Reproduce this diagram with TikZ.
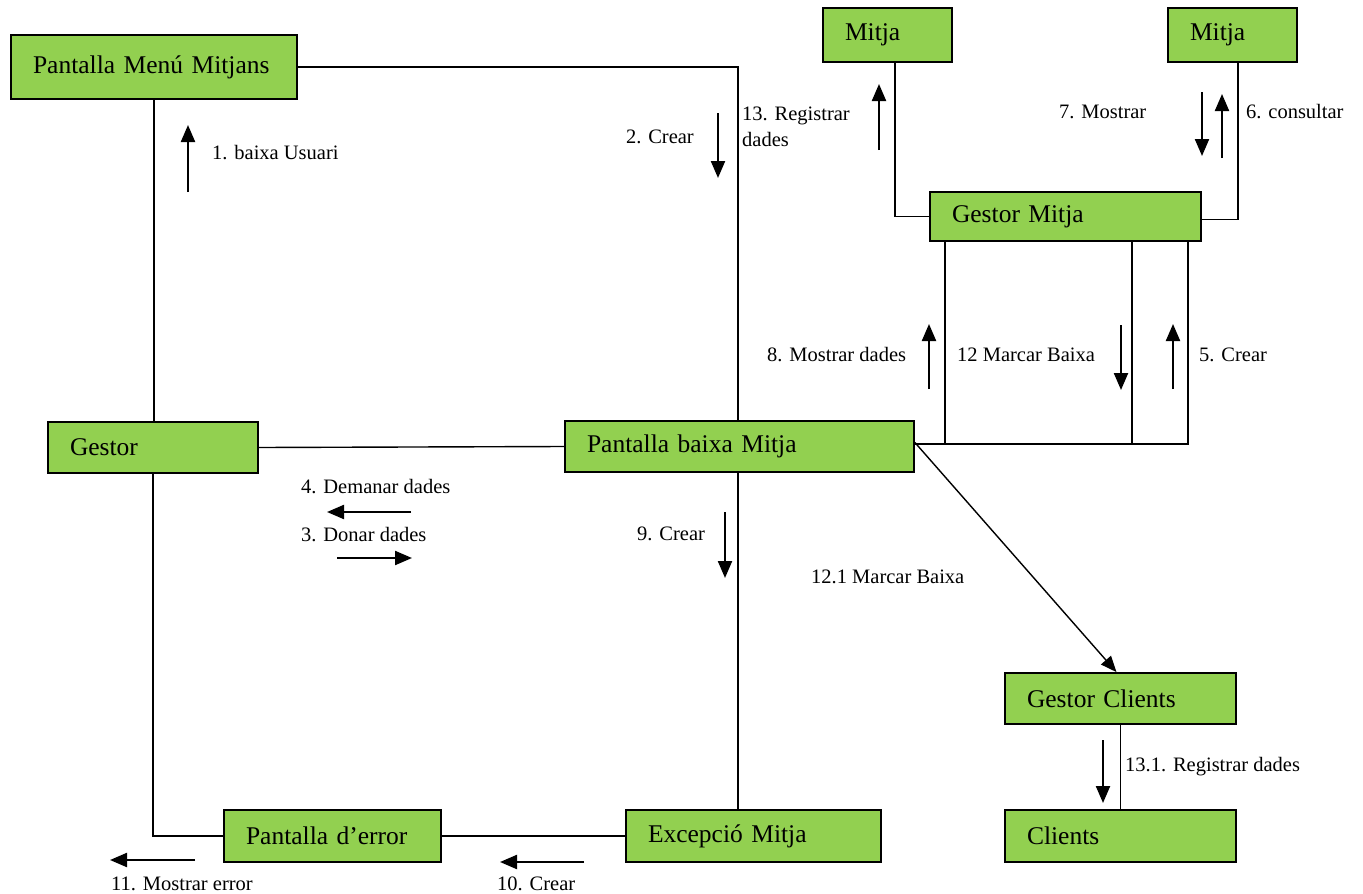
\documentclass[tikz,border=0pt]{standalone}
\usepackage{fontspec}
\setmainfont{Liberation Serif}
\usetikzlibrary{arrows.meta, positioning}
\definecolor{groenn}{HTML}{92D050}

\begin{document}
\begin{tikzpicture}[
    x=1pt, y=-1pt,
    punkt/.style = {rectangle, draw, fill=groenn, line width=1.8pt,
                    inner xsep=22pt, inner ysep=0pt, align=left,
                    font=\fontsize{25.5}{29}\selectfont},
    linje/.style = {black, line width=1.4pt},
    pil/.style = {black, line width=2.2pt, -{Triangle[length=17pt, width=14pt]}},
    etikett/.style = {anchor=west, inner sep=0pt, font=\fontsize{20.5}{26}\selectfont}
    ]
  \useasboundingbox (0,0) rectangle (1363,894);

  \node[punkt, text width=242pt, minimum height=64pt] (menu) at (154,67) {Pantalla Menú Mitjans} ;
  \node[punkt, text width=85pt, minimum height=54pt] (mitja1) at (887.5,35) {Mitja} ;
  \node[punkt, text width=85pt, minimum height=54pt] (mitja2) at (1232.5,35) {Mitja} ;
  \node[punkt, text width=227pt, minimum height=49pt] (gmitja) at (1065.5,216.5) {Gestor Mitja} ;
  \node[punkt, text width=166pt, minimum height=51pt] (gestor) at (153,447.5) {Gestor} ;
  \node[punkt, text width=305pt, minimum height=51pt] (pbaixa) at (739.5,446.5) {Pantalla baixa Mitja} ;
  \node[punkt, text width=187pt, minimum height=51pt] (gclients) at (1120.5,698.5) {Gestor Clients} ;
  \node[punkt, text width=187pt, minimum height=52pt] (clients) at (1120.5,836) {Clients} ;
  \node[punkt, text width=173pt, minimum height=52pt] (perror) at (332.5,836) {Pantalla d’error} ;
  \node[punkt, text width=211pt, minimum height=52pt] (excepcio) at (753.5,836) {Excepció Mitja} ;

  % connexions
  \draw[linje] (menu.east) -| ([xshift=-1.5pt]pbaixa.north) ;
  \draw[linje] (menu.south) -- (menu.south |- gestor.north) ;
  \draw[linje] (gestor.east) -- (pbaixa.west) ;
  \draw[linje] (gestor.south) |- (perror.west) ;
  \draw[linje] (perror.east) -- (excepcio.west) ;
  \draw[linje] ([xshift=-1.5pt]pbaixa.south) -- ([xshift=-1.5pt]pbaixa.south |- excepcio.north) ;
  \draw[linje] ([xshift=7.5pt]mitja1.south) |- (gmitja.west) ;
  \draw[linje] ([xshift=5.5pt]mitja2.south) |- ([yshift=-3pt]gmitja.east) ;
  \draw[linje] ([yshift=2.5pt]pbaixa.east) -- ([xshift=-14pt, yshift=2.5pt]gmitja.south east |- pbaixa.east)
    -- ([xshift=-14pt]gmitja.south east) ;
  \draw[linje] ([xshift=16pt]gmitja.south west) -- ([xshift=16pt, yshift=2.5pt]gmitja.south west |- pbaixa.east) ;
  \draw[linje] ([xshift=-70pt]gmitja.south east) -- ([xshift=-70pt, yshift=2.5pt]gmitja.south east |- pbaixa.east) ;
  \draw[linje] (gclients.south) -- (clients.north) ;
  \draw[linje, -{Triangle[length=16pt, width=13pt]}] ([yshift=4pt]pbaixa.east) -- ([xshift=-4pt]gclients.north) ;

  % missatges
  \node[etikett] (m1) at (212,153) {1. baixa Usuari} ;
  \draw[pil] (188,192) -- (188,125) ;
  \node[etikett, anchor=east] (m2) at (694,137) {2. Crear} ;
  \draw[pil] (718,113) -- (718,178) ;
  \node[etikett, align=left, font=\fontsize{20.5}{26}\selectfont] (m13) at (742,127) {13. Registrar\\dades} ;
  \draw[pil] (879,150) -- (879,84) ;
  \node[etikett] (m7) at (1059,112) {7. Mostrar} ;
  \draw[pil] (1202,92) -- (1202,156) ;
  \draw[pil] (1222,158) -- (1222,94) ;
  \node[etikett] (m6) at (1246,112) {6. consultar} ;
  \node[etikett] (m8) at (767,355) {8. Mostrar dades} ;
  \draw[pil] (929,389) -- (929,324) ;
  \node[etikett] (m12) at (957,355) {12 Marcar Baixa} ;
  \draw[pil] (1121,325) -- (1121,390) ;
  \draw[pil] (1173,389) -- (1173,324) ;
  \node[etikett] (m5) at (1199,355) {5. Crear} ;
  \node[etikett] (m4) at (301,487) {4. Demanar dades} ;
  \draw[pil] (411,512) -- (327,512) ;
  \node[etikett] (m3) at (301,535) {3. Donar dades} ;
  \draw[pil] (337,558) -- (412,558) ;
  \node[etikett] (m9) at (637,534) {9. Crear} ;
  \draw[pil] (725,512) -- (725,578) ;
  \node[etikett] (m121) at (811,577) {12.1 Marcar Baixa} ;
  \draw[pil] (1103,740) -- (1103,803) ;
  \node[etikett] (m131) at (1125,767) {13.1. Registrar dades} ;
  \draw[pil] (195,860) -- (110,860) ;
  \node[etikett] (m11) at (111,884) {11. Mostrar error} ;
  \draw[pil] (584,862) -- (500,862) ;
  \node[etikett] (m10) at (497,884) {10. Crear} ;
\end{tikzpicture}
\end{document}
